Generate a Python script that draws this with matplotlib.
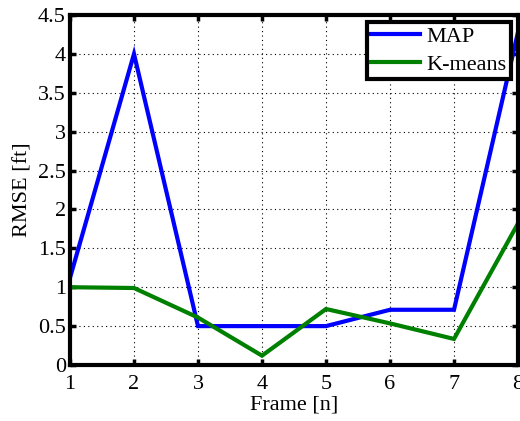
import matplotlib
matplotlib.use("Agg")
import matplotlib.pyplot as plt

frames = [1, 2, 3, 4, 5, 6, 7, 8]
map_rmse = [1.12, 4.0, 0.5, 0.5, 0.5, 0.71, 0.71, 4.28]
kmeans_rmse = [1.0, 0.99, 0.61, 0.12, 0.72, 0.535, 0.335, 1.82]
yticks = [0, 0.5, 1, 1.5, 2, 2.5, 3, 3.5, 4, 4.5]
yticklabels = ["0", "0.5", "1", "1.5", "2", "2.5", "3", "3.5", "4", "4.5"]

plt.rcParams['font.family'] = ['Liberation Serif', 'DejaVu Serif']

fig = plt.figure(figsize=(5.2, 4.21), dpi=100)
ax = fig.add_axes([70/520, 1 - 365/421, (518-70)/520, (365-15)/421])

ax.plot(frames, map_rmse, color='#0000ff', lw=3, label='MAP', solid_joinstyle='miter')
ax.plot(frames, kmeans_rmse, color='#008000', lw=3, label='K-means', solid_joinstyle='miter')

ax.set_xlim(1, 8)
ax.set_ylim(0, 4.5)
ax.set_xticks(frames)
ax.set_yticks(yticks)
ax.set_yticklabels(yticklabels)
ax.tick_params(direction='in', top=True, right=True, width=2.5, length=4, labelsize=16, pad=3)
ax.tick_params(axis='x', pad=7)
for s in ax.spines.values():
    s.set_linewidth(3)
ax.grid(True, color='black', linestyle=(0, (1, 3)), linewidth=0.8)
ax.set_axisbelow(True)
ax.set_xlabel('Frame [n]', fontsize=16, labelpad=1)
ax.set_ylabel('RMSE [ft]', fontsize=16, labelpad=4)

leg = ax.legend(loc='upper right', fontsize=16, fancybox=False, framealpha=1,
                edgecolor='black', borderpad=0.2, handlelength=2.2, handletextpad=0.3,
                labelspacing=0.35, borderaxespad=0.3)
leg.get_frame().set_linewidth(3)

fig.savefig('out.png', dpi=100)
